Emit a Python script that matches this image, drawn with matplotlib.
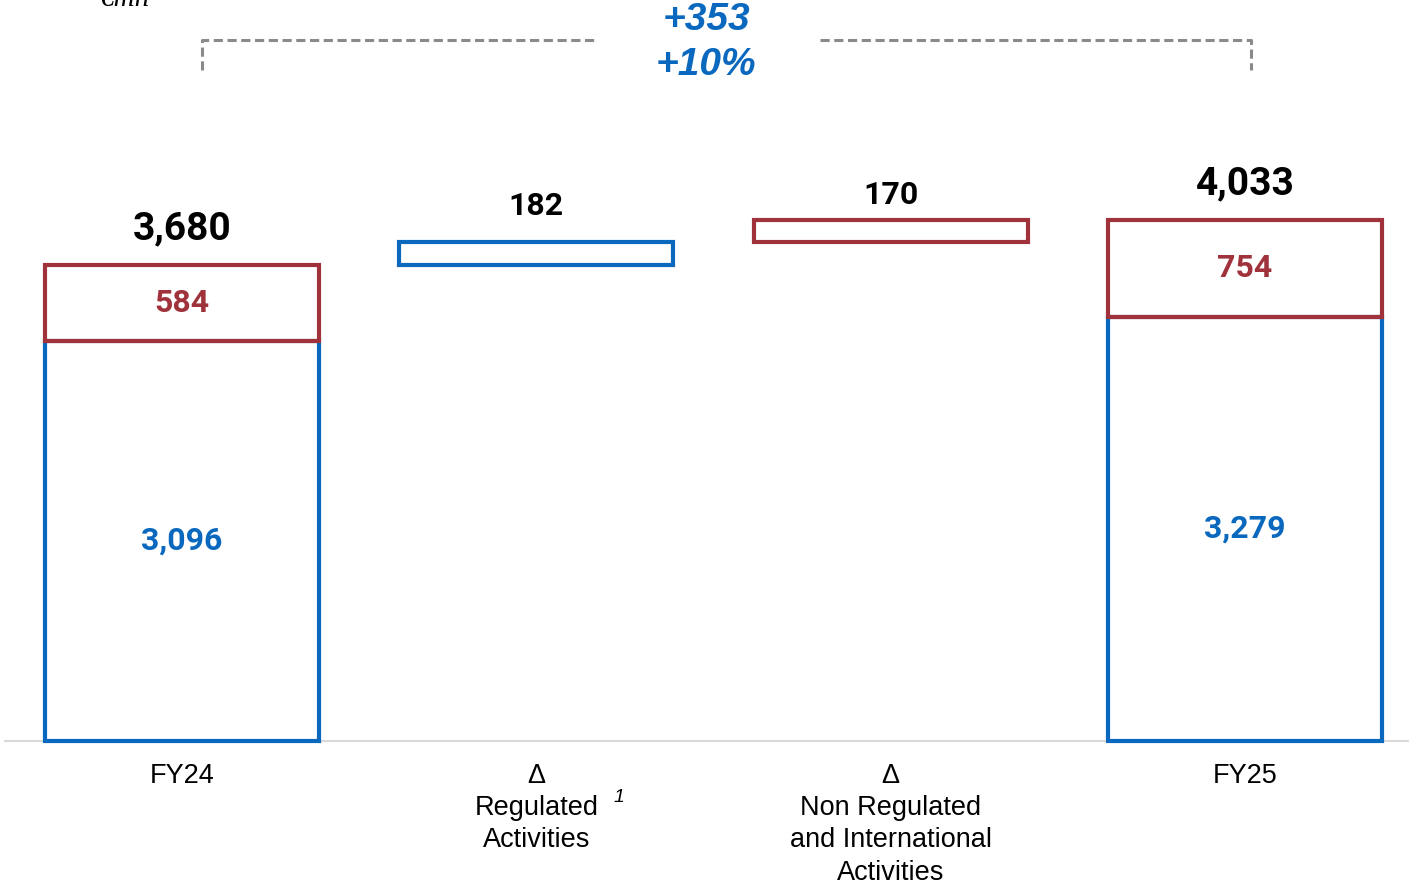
import matplotlib.pyplot as plt

# EBITDA bridge, values in EUR mn
categories = ["FY24", "\u0394\nRegulated\nActivities", "\u0394\nNon Regulated\nand International\nActivities", "FY25"]
regulated = [3096, 182, 0, 3279]
non_regulated = [584, 0, 170, 754]
totals = [3680, 4033]
delta_abs = "+353"
delta_pct = "+10%"

BLUE = "#0A69BE"
RED = "#A0323C"
GREY = "#8A8A8A"

plt.rcParams["font.family"] = ["Liberation Sans", "DejaVu Sans"]

fig = plt.figure(figsize=(14.09, 8.84), dpi=100)
ax = fig.add_axes([0, 0, 1, 1])

# pixel -> data mapping: baseline at y=741 px, 0.1293 px per unit
px_per_unit = 0.1293
ax.set_ylim(-143 / px_per_unit, 741 / px_per_unit)
x_scale = 354.33
ax.set_xlim(-182 / x_scale, (1409 - 182) / x_scale)
ax.axis("off")

width = 274 / x_scale
lw = 3.0
x = [0, 1, 2, 3]


def py(p):
    return (741 - p) / px_per_unit


def px(p):
    return (p - 182) / x_scale


# baseline
ax.plot([px(5), px(1409)], [0, 0], color="#DADADA", lw=1.5, zorder=1)

# FY24 stacked
ax.bar(x[0], regulated[0], width=width, bottom=0, fill=False, edgecolor=BLUE, lw=lw, zorder=3)
ax.bar(x[0], non_regulated[0], width=width, bottom=regulated[0], fill=False, edgecolor=RED, lw=lw, zorder=3)
# deltas
ax.bar(x[1], regulated[1], width=width, bottom=totals[0], fill=False, edgecolor=BLUE, lw=lw, zorder=3)
ax.bar(x[2], non_regulated[2], width=width, bottom=totals[0] + regulated[1], fill=False, edgecolor=RED, lw=lw, zorder=3)
# FY25 stacked
ax.bar(x[3], regulated[3], width=width, bottom=0, fill=False, edgecolor=BLUE, lw=lw, zorder=3)
ax.bar(x[3], non_regulated[3], width=width, bottom=regulated[3], fill=False, edgecolor=RED, lw=lw, zorder=3)

num_font = ["Roboto"]

# inner segment labels
for i in (0, 3):
    ax.text(x[i], regulated[i] / 2, f"{regulated[i]:,}", ha="center", va="center",
            color=BLUE, fontsize=23, fontweight="bold", family=num_font)
    ax.text(x[i], regulated[i] + non_regulated[i] / 2, f"{non_regulated[i]:,}", ha="center", va="center",
            color=RED, fontsize=23, fontweight="bold", family=num_font)

# totals
ax.text(x[0], totals[0] + 36 / px_per_unit, f"{totals[0]:,}", ha="center", va="center",
        fontsize=28, fontweight="bold", family=num_font)
ax.text(x[3], totals[1] + 36 / px_per_unit, f"{totals[1]:,}", ha="center", va="center",
        fontsize=28, fontweight="bold", family=num_font)
# delta values
ax.text(x[1], totals[0] + regulated[1] + 36 / px_per_unit, f"{regulated[1]:,}", ha="center", va="center",
        fontsize=23, fontweight="bold", family=num_font)
ax.text(x[2], totals[1] + 25 / px_per_unit, f"{non_regulated[2]:,}", ha="center", va="center",
        fontsize=23, fontweight="bold", family=num_font)

# category labels
for i, lab in enumerate(categories):
    ax.text(x[i], py(763), lab, ha="center", va="top", fontsize=19.5, linespacing=1.31)
ax.text(px(619), py(798), "1", ha="center", va="center", fontsize=14, style="italic")

# top bracket with the overall change
yb = py(40)
yv = py(70)
kw = dict(color=GREY, lw=2.2, ls=(0, (3, 1.5)))
ax.plot([px(202), px(202), px(595)], [yv, yb, yb], **kw)
ax.plot([px(820), px(1251), px(1251)], [yb, yb, yv], **kw)
ax.text(px(706), py(20), delta_abs, ha="center", va="center", color=BLUE, fontsize=28,
        fontweight="bold", style="italic")
ax.text(px(706), py(65), delta_pct, ha="center", va="center", color=BLUE, fontsize=28,
        fontweight="bold", style="italic")

# unit label, partly above the top edge
ax.text(px(100), py(6), "\u20acmn", ha="left", va="baseline", fontsize=21,
        style="italic", family=["Liberation Serif"])

fig.savefig("out.png", dpi=100)
